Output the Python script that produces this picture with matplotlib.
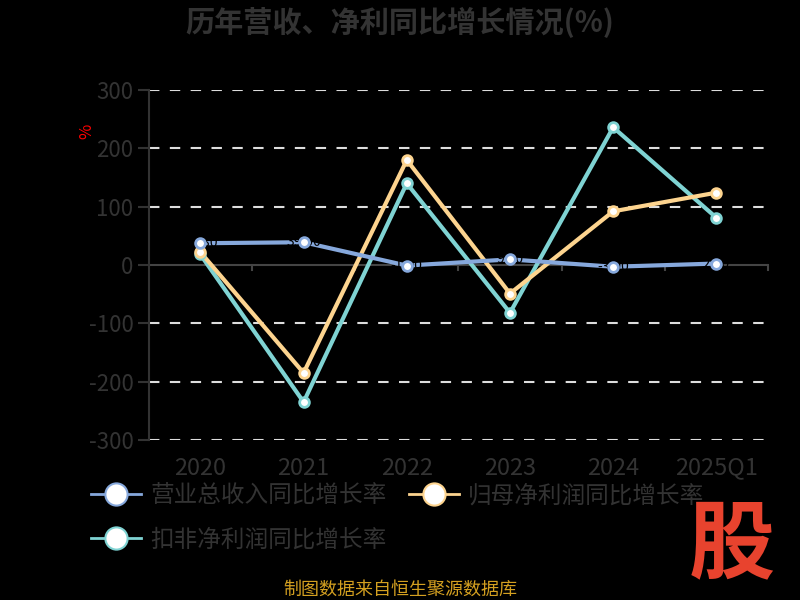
import matplotlib
matplotlib.use("Agg")
import matplotlib.pyplot as plt
from matplotlib.lines import Line2D

plt.rcParams['font.family'] = ['Noto Sans CJK SC', 'DejaVu Sans']

categories = ['2020', '2021', '2022', '2023', '2024', '2025Q1']
revenue_growth = [37.3, 39.0, -1.0, 9.6, -3.0, 2.5]
parent_profit_growth = [22.0, -185.0, 180.0, -49.0, 92.0, 124.0]
deducted_profit_growth = [18.0, -235.0, 140.0, -82.0, 236.0, 81.0]
series_names = ['营业总收入同比增长率', '归母净利润同比增长率', '扣非净利润同比增长率']
colors = ['#86a8dc', '#fdd48f', '#7fd3d3']
yticks = [-300, -200, -100, 0, 100, 200, 300]

fig = plt.figure(figsize=(8, 6), dpi=100, facecolor='black')
ax = fig.add_axes([0.186, 0.2667, 0.774, 0.5833], facecolor='black')

x = list(range(len(categories)))
gray = '#333333'

for v in [300, 200, 100, -100, -200, -300]:
    ax.axhline(v, color='#dddddd', lw=1.5, ls=(0, (5, 5)), zorder=1)
ax.axhline(0, color='#444444', lw=1.5, zorder=1)

series = [revenue_growth, parent_profit_growth, deducted_profit_growth]
for i, (vals, c) in enumerate(zip(series, colors)):
    z = 5 - i
    ax.plot(x, vals, color=c, lw=3, zorder=z, solid_capstyle='round')
    ax.plot(x, vals, ls='none', marker='o', ms=7, mfc='white', mec=c, mew=2, zorder=z + 10)

# dark data labels on the revenue line
for xi, v in zip(x, revenue_growth):
    ax.text(xi, v, f'{v:.2f}', color='black', fontsize=10, ha='center', va='center', zorder=8)

ax.set_xlim(-0.5, len(categories) - 0.5)
ax.set_ylim(-300, 300)
ax.set_yticks(yticks)
ax.set_yticklabels([str(t) for t in yticks], color=gray, fontsize=16)
ax.set_xticks(x)
ax.set_xticklabels(categories, color=gray, fontsize=17)
ax.tick_params(axis='x', length=0, pad=12)
ax.tick_params(axis='y', length=8, color=gray, width=1.5, pad=3)

# boundary ticks on the zero line
for b in [i + 0.5 for i in range(len(categories))]:
    ax.plot([b, b], [0, -9], color='#444444', lw=1.5, zorder=1, clip_on=False)

for s in ['top', 'right', 'bottom']:
    ax.spines[s].set_visible(False)
ax.spines['left'].set_color(gray)
ax.spines['left'].set_linewidth(1.5)

fig.text(0.5, 0.962, '历年营收、净利同比增长情况(%)', color=gray, fontsize=21,
         fontweight='bold', ha='center', va='center')
fig.text(0.108, 0.781, '%', color='red', fontsize=12, rotation=90, ha='center', va='center')

handles = [Line2D([0], [0], color=c, lw=2, marker='o', ms=16, mfc='white', mec=c, mew=1.5)
           for c in colors]
leg = fig.legend([handles[0], handles[1]], series_names[:2], loc='center left',
                 bbox_to_anchor=(0.0875, 0.173), ncol=2, frameon=False, fontsize=17,
                 labelcolor=gray, handlelength=2.1, handletextpad=0.4, columnspacing=0.95)
leg2 = fig.legend([handles[2]], series_names[2:], loc='center left',
                  bbox_to_anchor=(0.0875, 0.1), frameon=False, fontsize=17,
                  labelcolor=gray, handlelength=2.1, handletextpad=0.4)

fig.text(0.5, 0.018, '制图数据来自恒生聚源数据库', color='#d4a020', fontsize=13,
         ha='center', va='center')
fig.text(0.915, 0.09, '股', color='#e8432e', fontsize=62, fontweight='bold',
         style='italic', ha='center', va='center')

fig.savefig('out.png', dpi=100, facecolor='black')
